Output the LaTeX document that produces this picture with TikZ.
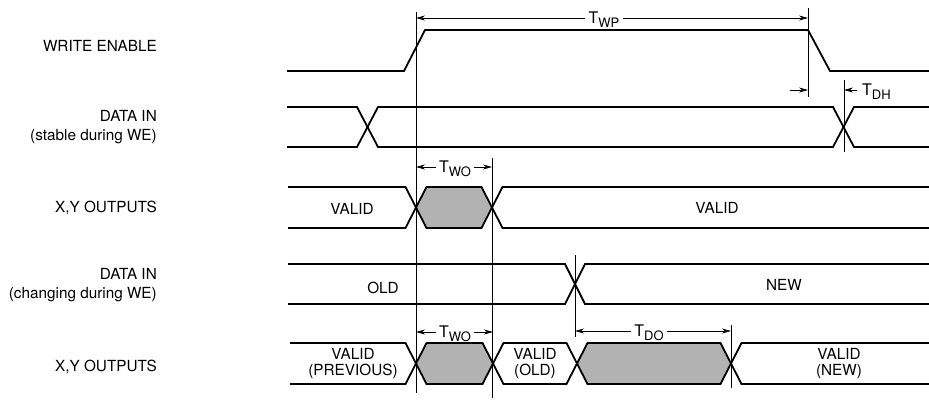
\documentclass[tikz,border=0pt]{standalone}
\usepackage{fontspec}
\setmainfont{TeX Gyre Heros}
\usetikzlibrary{arrows.meta}
\newcommand{\tsb}[1]{T\raisebox{-0.2em}{\fontsize{13}{13}\selectfont #1}}
\begin{document}
\begin{tikzpicture}[x=1pt,y=-1pt,
  sig/.style={line width=1.8pt, line join=miter},
  refl/.style={line width=0.7pt},
  dim/.style={line width=0.7pt, -{Stealth[length=9pt,width=5pt]}},
  shade/.style={fill=black!30},
  lbl/.style={font=\fontsize{15.3}{19}\selectfont, align=right, anchor=east, inner sep=0pt},
  wtxt/.style={font=\fontsize{15.3}{15.5}\selectfont, align=center, inner sep=0pt},
  tlab/.style={font=\fontsize{16}{16}\selectfont, inner sep=3pt, anchor=base}]
\useasboundingbox (0,0) rectangle (929,400);

% row labels
\node[lbl] (l1) at (157,46) {WRITE ENABLE};
\node[lbl] (l2) at (157,127.5) {DATA IN\\(stable during WE)};
\node[lbl] (l3) at (157,208) {X,Y OUTPUTS};
\node[lbl] (l4) at (157,285.5) {DATA IN\\(changing during WE)};
\node[lbl] (l5) at (157,367) {X,Y OUTPUTS};

% shaded regions
\fill[shade] (416,207.5) -- (426.5,187) -- (481.5,187) -- (492,207.5) -- (481.5,228) -- (426.5,228) -- cycle;
\fill[shade] (416,363.5) -- (426.5,343) -- (482.5,343) -- (493,363.5) -- (482.5,384) -- (426.5,384) -- cycle;
\fill[shade] (577,363.5) -- (587.5,343) -- (720.5,343) -- (731,363.5) -- (720.5,384) -- (587.5,384) -- cycle;

% row 1: write enable
\draw[sig] (287,71) -- (404,71) -- (425,30) -- (808,30) -- (830,71) -- (929,71);

% row 2: data in stable
\draw[sig] (287,107) -- (357,107) -- (378,147) -- (833,147) -- (854,107) -- (929,107);
\draw[sig] (287,147) -- (357,147) -- (378,107) -- (833,107) -- (854,147) -- (929,147);

% row 3: outputs
\draw[sig] (288,187) -- (405.5,187) -- (426.5,228) -- (481.5,228) -- (502.5,187) -- (929,187);
\draw[sig] (288,228) -- (405.5,228) -- (426.5,187) -- (481.5,187) -- (502.5,228) -- (929,228);

% row 4: data in changing
\draw[sig] (288,264) -- (565,264) -- (585,304) -- (929,304);
\draw[sig] (288,304) -- (565,304) -- (585,264) -- (929,264);

% row 5: outputs
\draw[sig] (290,343) -- (405.5,343) -- (426.5,384) -- (482.5,384) -- (503.5,343) -- (566.5,343) -- (587.5,384) -- (720.5,384) -- (741.5,343) -- (929,343);
\draw[sig] (290,384) -- (405.5,384) -- (426.5,343) -- (482.5,343) -- (503.5,384) -- (566.5,384) -- (587.5,343) -- (720.5,343) -- (741.5,384) -- (929,384);

% waveform texts
\node[wtxt] (v1) at (352,209) {VALID};
\node[wtxt] (v2) at (717,208) {VALID};
\node[wtxt] (old) at (383,288) {OLD};
\node[wtxt] (new) at (784,285) {NEW};
\node[wtxt] (vp) at (353,363.5) {VALID\\(PREVIOUS)};
\node[wtxt] (vo) at (535,363.5) {VALID\\(OLD)};
\node[wtxt] (vn) at (839,363.5) {VALID\\(NEW)};

% reference verticals
\coordinate (a1) at (416,12);  \coordinate (a2) at (416,393);
\coordinate (b1) at (492,158); \coordinate (b2) at (492,398);
\coordinate (c1) at (808,8);   \coordinate (c2) at (808,97);
\coordinate (d1) at (844,80);  \coordinate (d2) at (844,152);
\coordinate (e1) at (575,255); \coordinate (e2) at (575,337);
\coordinate (f1) at (731,325); \coordinate (f2) at (731,388);
\draw[refl] (a1) -- (a2);
\draw[refl] (b1) -- (b2);
\draw[refl] (c1) -- (c2);
\draw[refl] (d1) -- (d2);
\draw[refl] (e1) -- (e2);
\draw[refl] (f1) -- (f2);

% TWP
\node[tlab] (twp) at (604,23.8) {\tsb{WP}};
\draw[dim] (twp.west |- 0,18) -- (416,18);
\draw[dim] (twp.east |- 0,18) -- (808,18);

% TDH
\coordinate (dh0) at (790,90);
\draw[dim] (dh0) -- (808,90);
\node[tlab, anchor=base west, inner sep=0pt] (tdh) at (862,95.8) {\tsb{DH}};
\draw[dim] (857,90) -- (844,90);

% TWO row 3
\node[tlab] (two1) at (455,172.8) {\tsb{WO}};
\draw[dim] (two1.west |- 0,167) -- (416,167);
\draw[dim] (two1.east |- 0,167) -- (492,167);

% TWO row 5
\node[tlab] (two2) at (455,337.8) {\tsb{WO}};
\draw[dim] (two2.west |- 0,332) -- (416,332);
\draw[dim] (two2.east |- 0,332) -- (493,332);

% TDO
\node[tlab] (tdo) at (649,336.8) {\tsb{DO}};
\draw[dim] (tdo.west |- 0,331) -- (575,331);
\draw[dim] (tdo.east |- 0,331) -- (731,331);
\end{tikzpicture}
\end{document}
